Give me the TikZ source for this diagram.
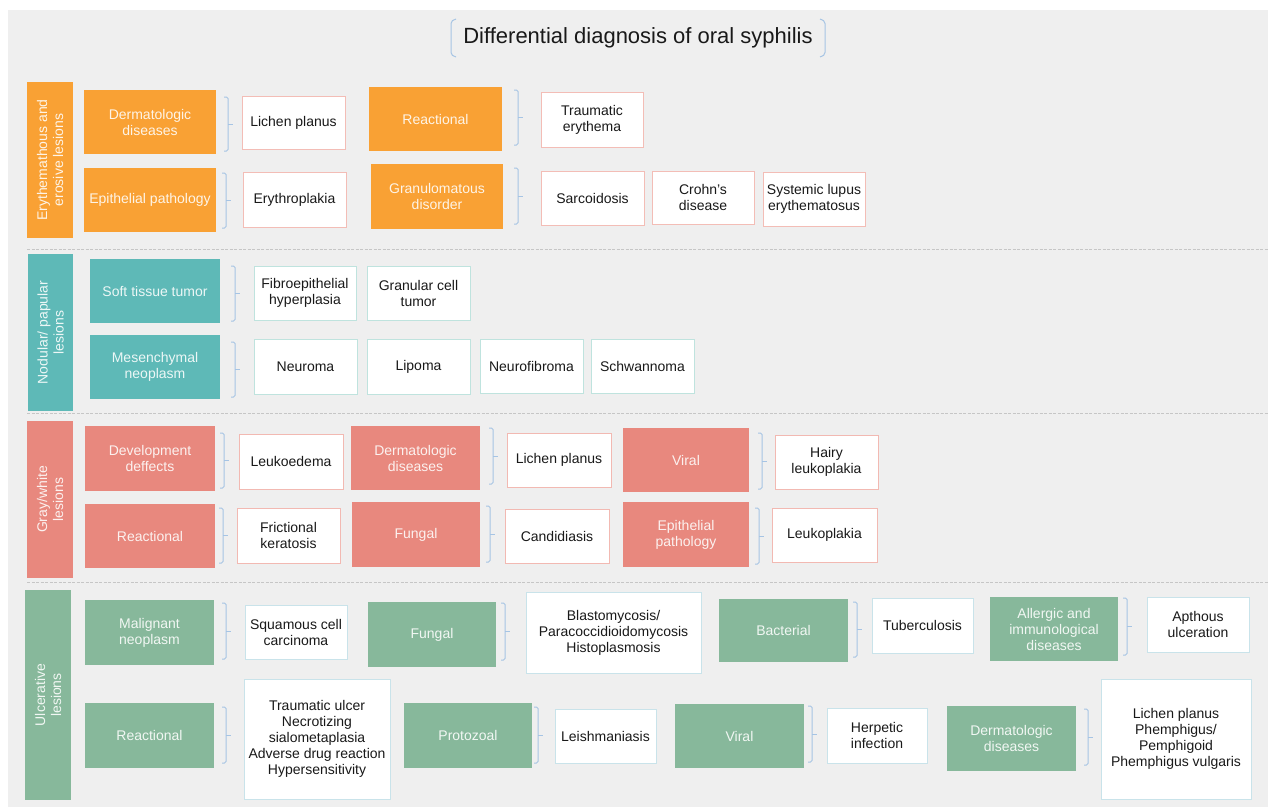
\documentclass[tikz,border=0pt]{standalone}
\usepackage{fontspec}
\setmainfont{Liberation Sans}
\usetikzlibrary{calc}
\definecolor{bgc}{HTML}{EFEFEF}
\definecolor{orng}{HTML}{F9A134}
\definecolor{teal}{HTML}{5EB9B7}
\definecolor{salm}{HTML}{E8887E}
\definecolor{grn}{HTML}{87B89B}
\definecolor{pinkb}{HTML}{F3BDB6}
\definecolor{tealb}{HTML}{BFE3DE}
\definecolor{salmb}{HTML}{F2B9B2}
\definecolor{grnb}{HTML}{C9E3EA}
\definecolor{brkc}{HTML}{A6C4E4}
\definecolor{dashc}{HTML}{C6C6C6}
\tikzset{
  base/.style={inner sep=0pt, align=center, font=\fontsize{14}{16}\selectfont},
  cat/.style={base, text=white},
  orcat/.style={cat, fill=orng, text=white!88!orng},
  tlcat/.style={cat, fill=teal, text=white!88!teal},
  slcat/.style={cat, fill=salm, text=white!88!salm},
  grcat/.style={cat, fill=grn, text=white!88!grn},
  item/.style={base, fill=white, draw, line width=1pt, text=black!90},
  oritem/.style={item, draw=pinkb},
  tlitem/.style={item, draw=tealb},
  slitem/.style={item, draw=salmb},
  gritem/.style={item, draw=grnb},
  brk/.style={draw=brkc, line width=1pt, rounded corners=1.5pt},
  sepline/.style={draw=dashc, line width=0.9pt, dash pattern=on 3pt off 1.5pt},
}
\newcommand\bx[7]{\node[#6, minimum width={(#4)-(#2)}, minimum height={(#5)-(#3)}] (#1) at ({((#2)+(#4))/2},{((#3)+(#5))/2}) {#7};}
\newcommand\sidebar[7]{\node[#6, rotate=90, minimum width={(#5)-(#3)}, minimum height={(#4)-(#2)}] (#1) at ({((#2)+(#4))/2},{((#3)+(#5))/2}) {#7};}
\newcommand\brk[3]{\draw[brk] ({#1-4},#2) -- (#1,#2) -- (#1,#3) -- ({#1-4},#3); \draw[brk] (#1,{(#2+#3)/2}) -- ({#1+5},{(#2+#3)/2});}
\begin{document}
\begin{tikzpicture}[x=1pt,y=-1pt]
\useasboundingbox (0,0) rectangle (1268,809);
\fill[white] (0,0) rectangle (1268,809);
\fill[bgc] (8,10) rectangle (1268,807);
% title
\node[font=\fontsize{22}{26}\selectfont, text=black!90] (title) at (638,38) {Differential diagnosis of oral syphilis};
\draw[brk] (456,19) to[out=180,in=90] (451,25) -- (451,51) to[out=-90,in=180] (456,57);
\draw[brk] (820,19) to[out=0,in=90] (825,25) -- (825,51) to[out=-90,in=0] (820,57);
% separators
\draw[sepline] (27,249) -- (1268,249);
\draw[sepline] (27,413) -- (1268,413);
\draw[sepline] (27,582) -- (1268,582);
% ===== Section 1
\sidebar{s1}{27}{82}{73}{238}{orcat}{Erythemathous and\\erosive lesions}
\bx{a1}{84}{90}{216}{154}{orcat}{Dermatologic\\diseases}
\brk{228}{97}{151}
\bx{a1i}{242}{96}{345}{149}{oritem}{Lichen planus}
\bx{a2}{369}{87}{502}{151}{orcat}{Reactional}
\brk{518}{90}{145}
\bx{a2i}{541}{92}{643}{147}{oritem}{Traumatic\\erythema}
\bx{a3}{84}{168}{216}{232}{orcat}{Epithelial pathology}
\brk{226}{173}{228}
\bx{a3i}{243}{172}{346}{227}{oritem}{Erythroplakia}
\bx{a4}{371}{164}{503}{229}{orcat}{Granulomatous\\disorder}
\brk{518}{168}{224}
\bx{a4i}{541}{171}{644}{225}{oritem}{Sarcoidosis}
\bx{a4j}{652}{171}{754}{224}{oritem}{Crohn's\\disease}
\bx{a4k}{763}{172}{865}{226}{oritem}{Systemic lupus\\erythematosus}
% ===== Section 2
\sidebar{s2}{28}{254}{73}{411}{tlcat}{Nodular/ papular\\lesions}
\bx{b1}{90}{259}{220}{323}{tlcat}{Soft tissue tumor}
\brk{235}{266}{321}
\bx{b1i}{254}{266}{356}{320}{tlitem}{Fibroepithelial\\hyperplasia}
\bx{b1j}{367}{266}{470}{320}{tlitem}{Granular cell\\tumor}
\bx{b2}{90}{335}{220}{399}{tlcat}{Mesenchymal\\neoplasm}
\brk{235}{342}{397}
\bx{b2i}{254}{339}{357}{394}{tlitem}{Neuroma}
\bx{b2j}{367}{339}{470}{394}{tlitem}{Lipoma}
\bx{b2k}{480}{339}{583}{393}{tlitem}{Neurofibroma}
\bx{b2l}{591}{339}{694}{393}{tlitem}{Schwannoma}
% ===== Section 3
\sidebar{s3}{27}{421}{73}{578}{slcat}{Gray/white\\lesions}
\bx{c1}{85}{426}{215}{491}{slcat}{Development\\deffects}
\brk{224}{433}{488}
\bx{c1i}{239}{434}{343}{489}{slitem}{Leukoedema}
\bx{c2}{351}{426}{480}{490}{slcat}{Dermatologic\\diseases}
\brk{493}{428}{484}
\bx{c2i}{507}{433}{611}{487}{slitem}{Lichen planus}
\bx{c3}{623}{428}{749}{492}{slcat}{Viral}
\brk{762}{433}{489}
\bx{c3i}{775}{435}{878}{489}{slitem}{Hairy\\leukoplakia}
\bx{c4}{85}{504}{215}{568}{slcat}{Reactional}
\brk{223}{508}{563}
\bx{c4i}{237}{508}{340}{563}{slitem}{Frictional\\keratosis}
\bx{c5}{352}{502}{480}{567}{slcat}{Fungal}
\brk{490}{506}{562}
\bx{c5i}{505}{509}{609}{563}{slitem}{Candidiasis}
\bx{c6}{623}{502}{749}{567}{slcat}{Epithelial\\pathology}
\brk{759}{508}{564}
\bx{c6i}{772}{508}{877}{562}{slitem}{Leukoplakia}
% ===== Section 4
\sidebar{s4}{25}{590}{71}{800}{grcat}{Ulcerative\\lesions}
\bx{d1}{85}{600}{214}{665}{grcat}{Malignant\\neoplasm}
\brk{226}{603}{659}
\bx{d1i}{245}{605}{347}{659}{gritem}{Squamous cell\\carcinoma}
\bx{d2}{368}{602}{496}{667}{grcat}{Fungal}
\brk{505}{603}{660}
\bx{d2i}{526}{592}{701}{673}{gritem}{Blastomycosis/\\Paracoccidioidomycosis\\Histoplasmosis}
\bx{d3}{719}{599}{848}{662}{grcat}{Bacterial}
\brk{857}{602}{657}
\bx{d3i}{872}{598}{973}{653}{gritem}{Tuberculosis}
\bx{d4}{990}{597}{1118}{661}{grcat}{Allergic and\\immunological\\diseases}
\brk{1127}{598}{655}
\bx{d4i}{1147}{597}{1249}{652}{gritem}{Apthous\\ulceration}
\bx{d5}{85}{703}{214}{768}{grcat}{Reactional}
\brk{226}{707}{763}
\bx{d5i}{244}{679}{390}{799}{gritem}{Traumatic ulcer\\Necrotizing\\sialometaplasia\\Adverse drug reaction\\Hypersensitivity}
\bx{d6}{404}{703}{532}{768}{grcat}{Protozoal}
\brk{538}{707}{763}
\bx{d6i}{555}{709}{656}{763}{gritem}{Leishmaniasis}
\bx{d7}{675}{704}{804}{768}{grcat}{Viral}
\brk{812}{706}{762}
\bx{d7i}{827}{708}{927}{763}{gritem}{Herpetic\\infection}
\bx{d8}{947}{706}{1076}{771}{grcat}{Dermatologic\\diseases}
\brk{1088}{709}{765}
\bx{d8i}{1101}{679}{1251}{799}{gritem}{Lichen planus\\Phemphigus/\\Pemphigoid\\Phemphigus vulgaris}
\end{tikzpicture}
\end{document}
